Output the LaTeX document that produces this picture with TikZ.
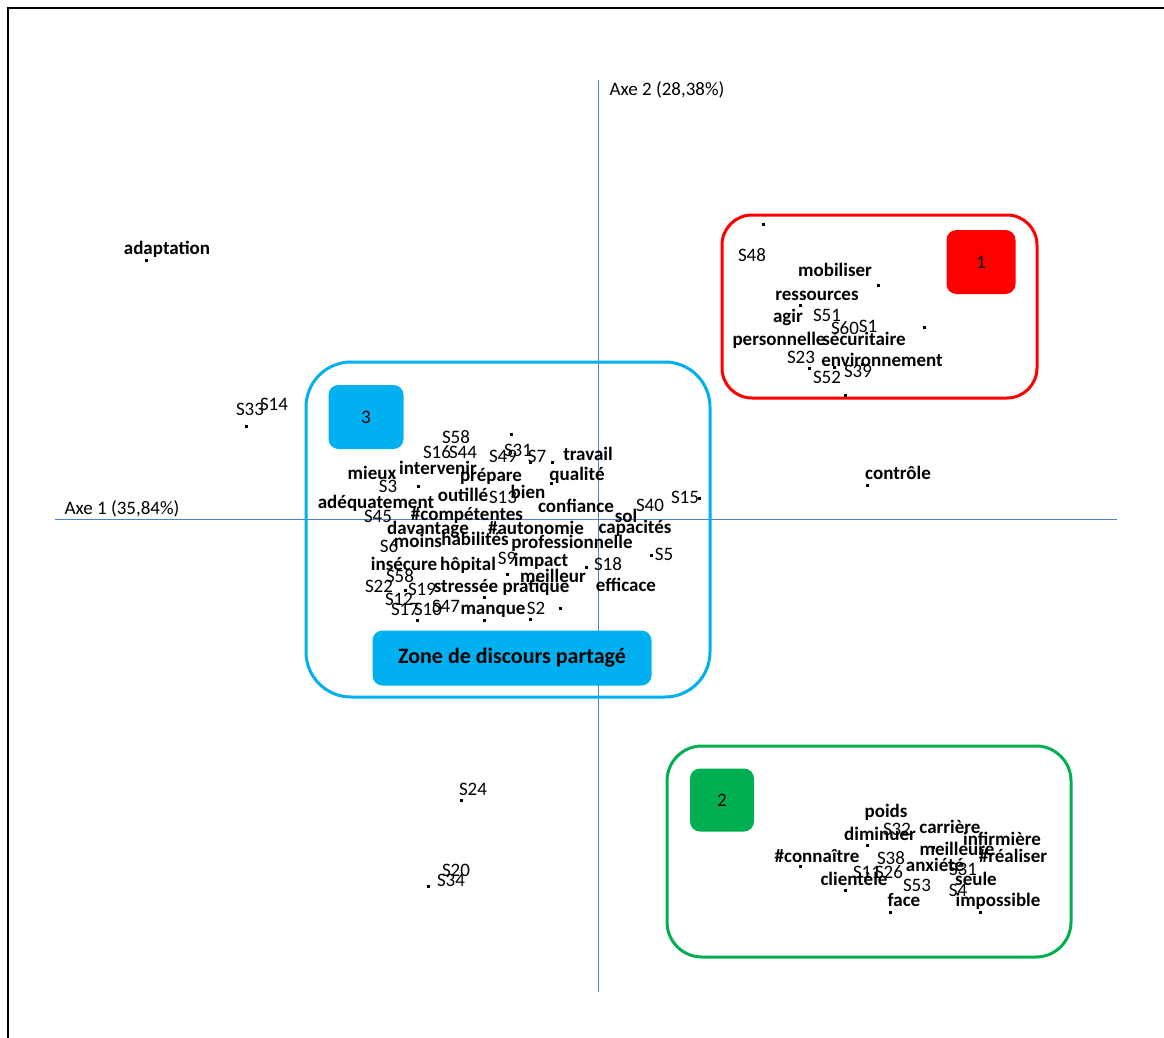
\documentclass[tikz,border=0pt]{standalone}
\usepackage{fontspec}
\setmainfont{Carlito}
\usepackage{tikz}
\usetikzlibrary{positioning}
\definecolor{axisblue}{RGB}{79,129,189}
\definecolor{zonered}{RGB}{255,0,0}
\definecolor{zonecyan}{RGB}{0,176,240}
\definecolor{zonegreen}{RGB}{0,176,80}

\begin{document}
\begin{tikzpicture}[
    x=1pt, y=-1pt,
    % Label styles
    word/.style={font=\fontsize{19}{21}\selectfont\bfseries, inner sep=0pt, text height=13pt, text depth=4pt, yshift=-2.5pt},
    subj/.style={font=\fontsize{19}{21}\selectfont, inner sep=0pt, text height=13pt, text depth=4pt, yshift=-2.5pt},
    axlabel/.style={font=\fontsize{19}{21}\selectfont, inner sep=0pt},
    ptdot/.style={rectangle, fill=black, minimum size=3pt, inner sep=0pt},
    zone/.style={rectangle, draw, line width=3pt, rounded corners=35pt},
    badge/.style={rectangle, rounded corners=10pt, font=\fontsize{19}{21}\selectfont, inner sep=0pt},
]
\useasboundingbox (0,0) rectangle (1164,1038);

% Frame
\draw[line width=2pt] (8,1045) -- (8,8) -- (1170,8);

% Axes
\coordinate (xl) at (55,519);
\coordinate (xr) at (1117,519);
\coordinate (yt) at (598,80);
\coordinate (yb) at (598,992);
\draw[axisblue, line width=1pt] (xl) -- (xr);
\draw[axisblue, line width=1pt] (yt) -- (yb);
\node[axlabel] (ax1) at (122,509) {Axe 1 (35,84\%)};
\node[axlabel] (ax2) at (667,90) {Axe 2 (28,38\%)};

% Zones
\node[zone, draw=zonered, minimum width=315, minimum height=183, rounded corners=30pt] (zone1) at (879.5,306.5) {};
\node[zone, draw=zonecyan, minimum width=404, minimum height=335, rounded corners=45pt] (zone3) at (508,529.5) {};
\node[zone, draw=zonegreen, minimum width=404, minimum height=211] (zone2) at (869,851.5) {};

\node[badge, fill=zonered, minimum width=69, minimum height=64] (b1) at (981,262) {1};
\node[badge, fill=zonecyan, minimum width=75, minimum height=64] (b3) at (366,417) {3};
\node[badge, fill=zonegreen, minimum width=64, minimum height=63] (b2) at (722,800) {2};
\node[badge, fill=zonecyan, minimum width=279, minimum height=55, font=\fontsize{22}{24}\selectfont\bfseries] (shared) at (512,658) {Zone de discours partagé};

% Points
\foreach \x/\y [count=\i] in {763/224, 878/285, 800/305, 924/327, 809/368, 834/367, 862/364, 845/395,
    146/260, 246/426, 867/485, 461/800, 428/886,
    511/434, 530/462, 552/462, 551/483, 418/486, 651/555, 507/574, 586/567, 405/590,
    484/597, 560/608, 417/620, 484/620, 530/619, 699/498,
    800/866, 867/845, 845/890, 890/912, 980/912, 933/847}
    \node[ptdot] (p\i) at (\x,\y) {};

% Zone 1
\node[subj] (s48) at (752,254) {S48};
\node[word] (mobiliser) at (835,269) {mobiliser};
\node[word] (ressources) at (817,293) {ressources};
\node[word] (agir) at (788,315) {agir};
\node[subj] (s51) at (827,314) {S51};
\node[subj] (s60) at (845,327) {S60};
\node[subj] (s1) at (868,325) {S1};
\node[word] (personnelle) at (779,338) {personnelle};
\node[word] (securitaire) at (864,338) {sécuritaire};
\node[subj] (s23) at (801,356) {S23};
\node[word] (environnement) at (882,359) {environnement};
\node[subj] (s52) at (827,376) {S52};
\node[subj] (s39) at (858,370) {S39};

% Outliers
\node[word] (adaptation) at (167,247) {adaptation};
\node[subj] (s33) at (250,408) {S33};
\node[subj] (s14) at (274,403) {S14};
\node[word] (controle) at (898,472) {contrôle};
\node[subj] (s24) at (473,788) {S24};
\node[subj] (s20) at (456,869) {S20};
\node[subj] (s34) at (451,879) {S34};

% Zone 3
\node[subj] (s58a) at (456,436) {S58};
\node[subj] (s16) at (437,451) {S16};
\node[subj] (s44) at (463,451) {S44};
\node[subj] (s49) at (503,455) {S49};
\node[subj] (s31a) at (518,449) {S31};
\node[subj] (s7) at (537,455) {S7};
\node[word] (travail) at (588,453) {travail};
\node[word] (mieux) at (372,472) {mieux};
\node[word] (intervenir) at (438,467) {intervenir};
\node[word] (prepare) at (491,474) {prépare};
\node[word] (qualite) at (577,473) {qualité};
\node[subj] (s3) at (388,485) {S3};
\node[word] (outille) at (463,494) {outillé};
\node[subj] (s13) at (503,496) {S13};
\node[word] (bien) at (528,491) {bien};
\node[word] (adequatement) at (376,501) {adéquatement};
\node[word] (confiance) at (576,505) {confiance};
\node[subj] (s40) at (650,504) {S40};
\node[subj] (s15) at (685,496) {S15};
\node[word] (sol) at (626,515) {sol};
\node[subj] (s45) at (378,515) {S45};
\node[word] (competentes) at (467,513) {\#compétentes};
\node[word] (davantage) at (428,527) {davantage};
\node[word] (autonomie) at (536,527) {\#autonomie};
\node[word] (capacites) at (635,526) {capacités};
\node[subj] (s6) at (389,545) {S6};
\node[word] (moins) at (418,540) {moins};
\node[word] (habilites) at (475,538) {habilités};
\node[word] (professionnelle) at (572,541) {professionnelle};
\node[subj] (s9) at (507,557) {S9};
\node[word] (impact) at (541,559) {impact};
\node[subj] (s5) at (664,553) {S5};
\node[subj] (s18) at (608,563) {S18};
\node[word] (insecure) at (404,563) {insécure};
\node[word] (hopital) at (468,563) {hôpital};
\node[subj] (s58b) at (400,575) {S58};
\node[word] (meilleur) at (553,575) {meilleur};
\node[subj] (s22) at (379,585) {S22};
\node[subj] (s19) at (422,588) {S19};
\node[word] (stressee) at (466,585) {stressée};
\node[word] (pratique) at (536,585) {pratique};
\node[word] (efficace) at (626,584) {efficace};
\node[subj] (s12) at (399,598) {S12};
\node[subj] (s17) at (405,608) {S17};
\node[subj] (s10) at (428,608) {S10};
\node[subj] (s47) at (446,605) {S47};
\node[word] (manque) at (493,607) {manque};
\node[subj] (s2) at (536,607) {S2};

% Zone 2
\node[word] (poids) at (886,810) {poids};
\node[subj] (s32) at (897,828) {S32};
\node[word] (carriere) at (950,826) {carrière};
\node[word] (diminuer) at (880,833) {diminuer};
\node[word] (infirmiere) at (1002,838) {infirmière};
\node[word] (meilleure) at (957,848) {meilleure};
\node[word] (realiser) at (1013,855) {\#réaliser};
\node[word] (connaitre) at (817,855) {\#connaître};
\node[subj] (s38) at (891,857) {S38};
\node[word] (anxiete) at (935,864) {anxiété};
\node[subj] (s31b) at (963,868) {S31};
\node[subj] (s11) at (867,871) {S11};
\node[subj] (s26) at (889,871) {S26};
\node[word] (clientele) at (854,878) {clientèle};
\node[word] (seule) at (976,878) {seule};
\node[subj] (s53) at (917,884) {S53};
\node[subj] (s4) at (958,889) {S4};
\node[word] (face) at (904,899) {face};
\node[word] (impossible) at (998,899) {impossible};

\end{tikzpicture}
\end{document}
